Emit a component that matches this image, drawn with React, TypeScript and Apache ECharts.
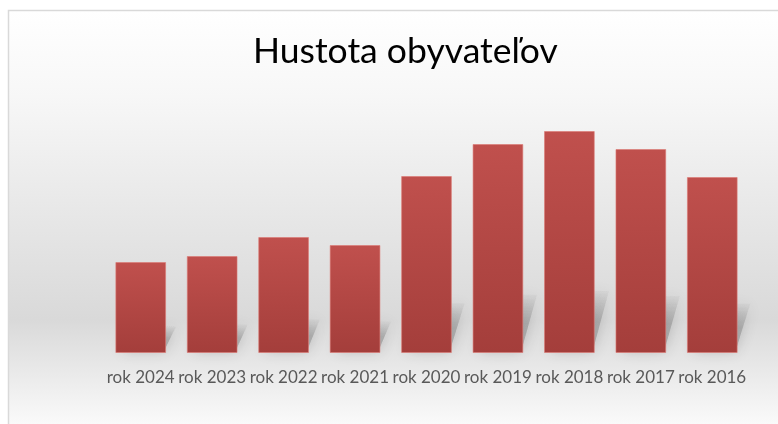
import React, { useEffect, useRef } from "react";
import * as echarts from "echarts";

const categories = ["rok 2024", "rok 2023", "rok 2022", "rok 2021", "rok 2020", "rok 2019", "rok 2018", "rok 2017", "rok 2016"];
const values = [91, 97, 116, 108, 177, 209, 222, 204, 176];
const titleText = "Hustota obyvateľov";

export default function App() {
  const ref = useRef<HTMLDivElement>(null);
  useEffect(() => {
    if (!ref.current) return;
    const chart = echarts.init(ref.current, null, { renderer: "svg" });
    const option: any = {
      animation: false,
      title: {
        text: titleText,
        left: 248,
        top: 26,
        textStyle: { fontFamily: "Lato", fontSize: 35.5, fontWeight: "normal", color: "#000000" },
      },
      graphic: [
        {
          type: "rect",
          z: -10,
          shape: { x: 8.5, y: 10.5, width: 800, height: 430 },
          style: {
            fill: new echarts.graphic.LinearGradient(0, 0, 0, 1, [
              { offset: 0, color: "#ffffff" },
              { offset: 0.2, color: "#f7f7f7" },
              { offset: 0.72, color: "#d9d9d9" },
              { offset: 1, color: "#ffffff" },
            ]),
            stroke: "#d9d9d9",
            lineWidth: 1.5,
          },
          silent: true,
        },
      ],
      grid: { left: 105, right: 30, top: 103, bottom: 71 },
      xAxis: {
        type: "category",
        data: categories,
        axisLine: { show: false },
        axisTick: { show: false },
        axisLabel: { color: "#595959", fontFamily: "Lato", fontSize: 17, margin: 15, interval: 0 },
      },
      yAxis: { type: "value", min: 0, max: 250, show: false, splitLine: { show: false } },
      series: [
        {
          type: "custom",
          z: 1,
          silent: true,
          data: values.map((v, i) => [i, v]),
          renderItem: (params: any, api: any) => {
            const idx = api.value(0);
            const v = api.value(1);
            const base = api.coord([idx, 0]);
            const top = api.coord([idx, v]);
            const bw = api.size([1, 0])[0] * 0.71;
            const h = base[1] - top[1];
            const sh = h * 0.27;
            const dx = 9 + sh * 0.12;
            const x0 = base[0] - bw / 2 + 6;
            const x1 = base[0] + bw / 2 - 2;
            const y0 = base[1] - 2;
            return {
              type: "polygon",
              shape: { points: [[x0, y0], [x1, y0], [x1 + dx, y0 - sh], [x0 + dx, y0 - sh]] },
              style: {
                fill: new echarts.graphic.LinearGradient(0, 0, 0, 1, [
                  { offset: 0, color: "rgba(100,100,100,0.05)" },
                  { offset: 0.5, color: "rgba(100,100,100,0.35)" },
                  { offset: 1, color: "rgba(100,100,100,0.4)" },
                ]),
                shadowBlur: 14,
                shadowColor: "rgba(0,0,0,0.45)",
              },
            };
          },
        },
        {
          type: "bar",
          z: 2,
          data: values,
          barWidth: "71%",
          itemStyle: {
            color: new echarts.graphic.LinearGradient(0, 0, 0, 1, [
              { offset: 0, color: "#c0504d" },
              { offset: 1, color: "#a43e3b" },
            ]),
            borderColor: "rgba(220,120,115,0.6)",
            borderWidth: 1,
          },
        },
      ],
    };
    chart.setOption(option);
    return () => chart.dispose();
  }, []);
  return <div ref={ref} style={{ position: "fixed", left: 0, top: 0, width: 778, height: 424 }} />;
}
